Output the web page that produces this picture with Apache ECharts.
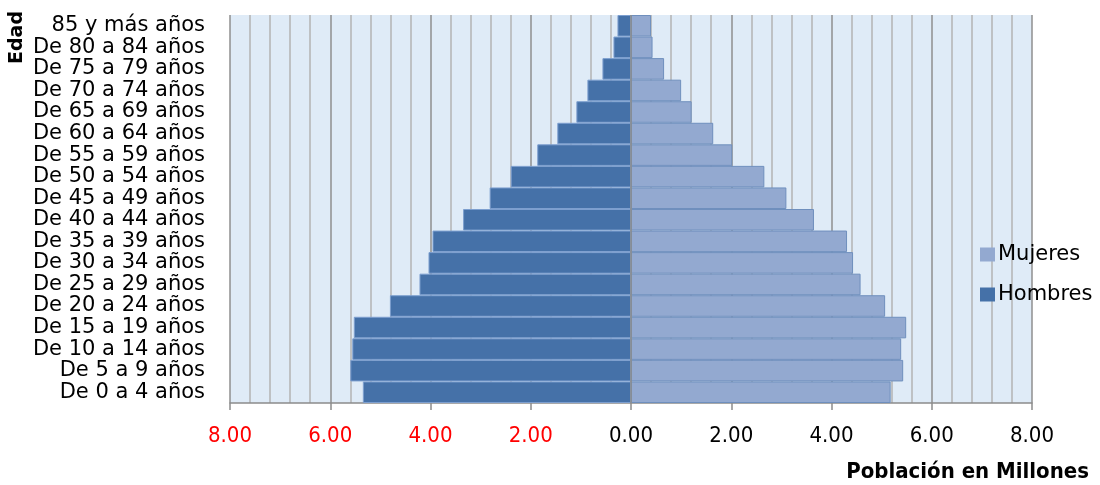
<!DOCTYPE html>
<html><head><meta charset="utf-8">
<script src="https://cdn.jsdelivr.net/npm/echarts@6/dist/echarts.min.js"></script>
<style>html,body{margin:0;padding:0;background:#fff}#c{width:1100px;height:485px}</style>
</head><body><div id="c"></div>
<script>
const categories = ['De 0 a 4 años','De 5 a 9 años','De 10 a 14 años','De 15 a 19 años','De 20 a 24 años','De 25 a 29 años','De 30 a 34 años','De 35 a 39 años','De 40 a 44 años','De 45 a 49 años','De 50 a 54 años','De 55 a 59 años','De 60 a 64 años','De 65 a 69 años','De 70 a 74 años','De 75 a 79 años','De 80 a 84 años','85 y más años'];
const hombres = [5.35,5.60,5.56,5.53,4.81,4.22,4.04,3.96,3.35,2.82,2.40,1.87,1.47,1.09,0.87,0.57,0.35,0.27];
const mujeres = [5.18,5.43,5.39,5.49,5.07,4.58,4.43,4.31,3.65,3.10,2.66,2.02,1.64,1.21,1.00,0.66,0.43,0.40];
const xTicks = {min:-8, max:8, interval:2};
const FONT = '"DejaVu Sans", sans-serif';
const NARROW = '"Liberation Sans Narrow", "DejaVu Sans Condensed", "Liberation Sans", sans-serif';

const chart = echarts.init(document.getElementById('c'));
chart.setOption({
  animation:false,
  textStyle:{fontFamily:FONT},
  grid:{left:230, right:68, top:15, bottom:82, show:true, backgroundColor:'#dfebf7', borderWidth:0},
  legend:{
    data:['Mujeres','Hombres'], orient:'vertical', left:975, top:239,
    itemWidth:15, itemHeight:14, itemGap:19, icon:'rect',
    itemStyle:{borderWidth:0},
    textStyle:{fontSize:21, color:'#000', fontFamily:FONT, padding:[0,0,0,-2]}
  },
  xAxis:{
    type:'value', min:xTicks.min, max:xTicks.max, interval:xTicks.interval,
    name:'Población en Millones', nameLocation:'end',
    nameGap:0,
    nameTextStyle:{fontSize:22, fontWeight:'bold', color:'#000', fontFamily:NARROW, align:'right', verticalAlign:'top', padding:[58,-57,0,0]},
    axisLine:{show:true, onZero:false, lineStyle:{color:'#8c8c8c', width:1.5}},
    axisTick:{show:true, length:7, lineStyle:{color:'#8c8c8c', width:1.5}},
    axisLabel:{fontSize:22, margin:22, fontFamily:NARROW, formatter:v=>Math.abs(v).toFixed(2), color:v=>v<0?'#ff0000':'#000'},
    splitLine:{show:true, lineStyle:{color:'#8f8f8f', width:1.5}},
    minorTick:{show:false, splitNumber:5},
    minorSplitLine:{show:true, lineStyle:{color:'#b4b4b4', width:1.5}}
  },
  yAxis:{
    type:'category', data:categories,
    axisLine:{show:false}, axisTick:{show:false},
    axisLabel:{interval:0, fontSize:21, color:'#000', margin:25, fontFamily:FONT}
  },
  graphic:[{
    type:'text', x:8, y:64, rotation:Math.PI/2,
    style:{text:'Edad', fill:'#000', font:'bold 19px "DejaVu Sans", sans-serif'}
  }],
  series:[
    {name:'Hombres', type:'bar', stack:'p', barCategoryGap:0,
     data:hombres.map(v=>-v),
     itemStyle:{color:'#4571a8', borderColor:'#7d9fcf', borderWidth:1},
     markLine:{silent:true, symbol:'none', label:{show:false}, lineStyle:{color:'#8c8c8c', type:'solid', width:1.5}, data:[{xAxis:0}]}
    },
    {name:'Mujeres', type:'bar', stack:'p', barCategoryGap:0,
     data:mujeres,
     itemStyle:{color:'#93a9d0', borderColor:'#6f8fbd', borderWidth:1}
    }
  ]
});
</script></body></html>
